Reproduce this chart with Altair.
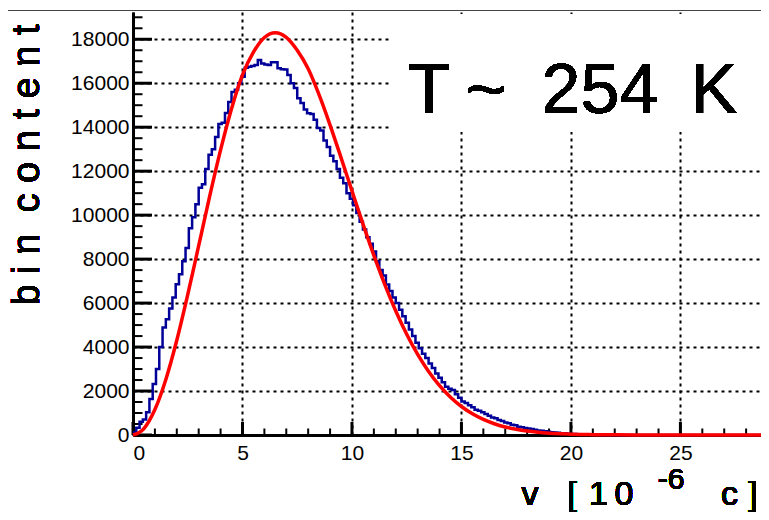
import altair as alt
import pandas as pd

# ---------------- data ----------------
BIN_WIDTH = 0.15
hist_counts = [
    120, 330, 600, 700, 1040, 1640, 2320, 3000, 4000, 4890,
    5270, 5750, 6250, 6860, 7310, 7900, 8500, 9400, 9900, 10500,
    11250, 11400, 12100, 12750, 13000, 13550, 14150, 14200, 14650, 15150,
    15600, 15700, 16000, 16300, 16700, 16750, 16780, 16830, 17060, 16900,
    16850, 16830, 16950, 16950, 16680, 16640, 16620, 16380, 16000, 15780,
    15320, 15100, 14800, 14640, 14600, 14340, 13960, 13850, 13400, 13100,
    12700, 12450, 12100, 11700, 11450, 11000, 10750, 10450, 10100, 9700,
    9350, 9000, 8700, 8350, 7900, 7500, 7250, 6850, 6550, 6250,
    6000, 5700, 5400, 5100, 4800, 4500, 4200, 3950, 3700, 3500,
    3250, 3050, 2800, 2600, 2400, 2200, 2100, 2050, 1850, 1700,
    1520, 1450, 1350, 1260, 1150, 1100, 1040, 950, 880, 800,
    760, 680, 640, 570, 530, 470, 440, 380, 350, 320,
    290, 270, 240, 210, 190, 170, 150, 130, 110, 100,
    85, 75, 60, 50, 45, 35, 30, 25, 20, 15,
    12, 8, 5, 3, 0,
]

fit_v = [0, 0.5, 1, 1.5, 2, 2.5, 3, 3.5, 4, 4.5, 5, 5.5, 6, 6.5, 7, 7.5,
         8, 8.5, 9, 9.5, 10, 10.5, 11, 11.5, 12, 12.5, 13, 13.5, 14, 14.5,
         15, 15.5, 16, 16.5, 17, 17.5, 18, 18.5, 19, 19.5, 20, 20.5, 21,
         21.5, 22, 23, 25, 28.68]
fit_counts = [0, 294, 1156, 2525, 4307, 6382, 8610, 10852, 12970, 14843,
              16377, 17410, 18080, 18300, 18090, 17500, 16657, 15469, 14098,
              12618, 11102, 9603, 8171, 6843, 5641, 4581, 3664, 2888, 2243,
              1718, 1297, 965, 708, 513, 366, 258, 179, 123, 83, 56, 37, 24,
              15, 10, 6, 2, 0, 0]

x_major = [0, 5, 10, 15, 20, 25]
x_minor = [v for v in range(0, 29) if v % 5 != 0]
y_major = [0, 2000, 4000, 6000, 8000, 10000, 12000, 14000, 16000, 18000]
y_minor = [v for v in range(500, 19500, 500) if v % 2000 != 0]

X_MAX = 28.68
Y_MAX = 19240
W, H = 628, 423
FONT = "Liberation Sans"

# ---------------- tables ----------------
hist_x = [i * BIN_WIDTH for i in range(len(hist_counts))] + [X_MAX]
hist_y = hist_counts + [0]
hist_df = pd.DataFrame({"v": hist_x, "n": hist_y})
fit_df = pd.DataFrame({"v": fit_v, "n": fit_counts})

xs = alt.Scale(domain=[0, X_MAX], nice=False, zero=False)
ys = alt.Scale(domain=[0, Y_MAX], nice=False, zero=False)

base_x_axis = alt.Axis(values=x_major, format="d", title=None, ticks=False,
                       grid=True, gridDash=[3, 4], gridWidth=2, gridColor="black",
                       domainWidth=3, domainColor="black", labelFont=FONT,
                       labelFontSize=21, labelColor="black", labelPadding=7)
base_y_axis = alt.Axis(values=y_major, format="d", title=None, ticks=False,
                       grid=True, gridDash=[3, 4], gridWidth=2, gridColor="black",
                       domainWidth=3, domainColor="black", labelFont=FONT,
                       labelFontSize=21, labelColor="black", labelPadding=4)

axes_layer = alt.Chart(fit_df).mark_point(opacity=0).encode(
    x=alt.X("v:Q", scale=xs, axis=base_x_axis),
    y=alt.Y("n:Q", scale=ys, axis=base_y_axis),
)

# white pave behind the big label
pave = alt.Chart(fit_df).mark_rect(color="white").encode(
    x=alt.value(259), x2=alt.value(W), y=alt.value(2), y2=alt.value(120)
)

# inside ticks
xmaj = alt.Chart(pd.DataFrame({"t": x_major})).mark_rule(color="black", strokeWidth=3).encode(
    x=alt.X("t:Q", scale=xs), y=alt.value(H), y2=alt.value(H - 13))
xmin = alt.Chart(pd.DataFrame({"t": x_minor})).mark_rule(color="black", strokeWidth=2).encode(
    x=alt.X("t:Q", scale=xs), y=alt.value(H), y2=alt.value(H - 6.5))
ymaj = alt.Chart(pd.DataFrame({"t": y_major})).mark_rule(color="black", strokeWidth=3).encode(
    y=alt.Y("t:Q", scale=ys), x=alt.value(0), x2=alt.value(19))
ymin = alt.Chart(pd.DataFrame({"t": y_minor})).mark_rule(color="black", strokeWidth=2).encode(
    y=alt.Y("t:Q", scale=ys), x=alt.value(0), x2=alt.value(9.5))

hist = alt.Chart(hist_df).mark_line(interpolate="step-after", color="#000099",
                                    strokeWidth=2.5).encode(
    x=alt.X("v:Q", scale=xs), y=alt.Y("n:Q", scale=ys))
fit = alt.Chart(fit_df).mark_line(interpolate="monotone", color="#ff0000",
                                  strokeWidth=3.5).encode(
    x=alt.X("v:Q", scale=xs), y=alt.Y("n:Q", scale=ys))

top_line = alt.Chart(fit_df).mark_rule(color="#444444", strokeWidth=1).encode(
    x=alt.value(-128), x2=alt.value(W), y=alt.value(-1.5))


def txt(s, x, y, size, angle=0, align="center", baseline="alphabetic"):
    kw = dict(text=s, font=FONT, fontSize=size, color="black", align=align,
              baseline=baseline)
    if angle:
        kw["angle"] = angle
    return alt.Chart(fit_df).mark_text(**kw).encode(x=alt.value(x), y=alt.value(y))


NB = "\u00a0"
ylabel = txt(NB.join(list("bin")) + NB * 2 + NB.join(list("content")),
             -105, 153, 38, angle=270, baseline="middle")

XL_Y = 493
xlabel = [
    txt("v", 397, XL_Y, 34),
    txt("[", 439, XL_Y, 34),
    txt("1", 465.5, XL_Y, 34),
    txt("0", 491, XL_Y, 34),
    txt("-6", 538, XL_Y - 16, 30),
    txt("c", 596.5, XL_Y, 34),
    txt("]", 620, XL_Y, 34),
]

title = [
    txt("T", 296, 101, 70),
    txt("~", 353, 101, 70),
    txt("254", 467, 101, 70),
    txt("K", 581, 101, 70),
]

chart = alt.layer(
    axes_layer, pave, xmin, xmaj, ymin, ymaj, hist, fit, top_line, ylabel,
    *xlabel, *title
).properties(
    width=W, height=H,
    padding={"left": 125, "top": 4, "right": 0, "bottom": 77},
    autosize=alt.AutoSizeParams(type="none"),
).configure_view(stroke=None)

chart.save("out.html", embed_options={"renderer": "svg", "actions": False})
